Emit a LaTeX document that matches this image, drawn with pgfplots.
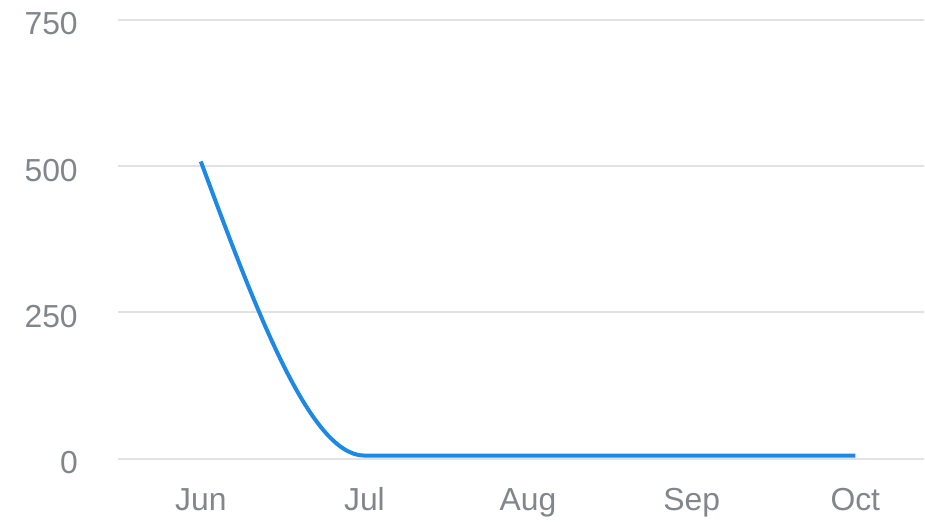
\documentclass[border=0pt]{standalone}
\usepackage{fontspec}
\setmainfont{Liberation Sans}
\usepackage{pgfplots}
\pgfplotsset{compat=1.18}
\definecolor{lblgray}{HTML}{80868B}
\definecolor{gridgray}{HTML}{E2E2E2}
\definecolor{lineblue}{HTML}{1E88E5}
\makeatletter
% monotone cubic (d3 monotoneX style) plot handler: draws only through the data points
\newcount\mc@n
\newcount\mc@k
\def\mc@store#1{%
  \pgf@process{#1}%
  \expandafter\xdef\csname mc@x@\the\mc@n\endcsname{\pgf@sys@tonumber\pgf@x}%
  \expandafter\xdef\csname mc@y@\the\mc@n\endcsname{\pgf@sys@tonumber\pgf@y}%
  \global\advance\mc@n by 1\relax
}
\def\mc@get#1#2{\csname mc@#1@\number#2\endcsname}
\def\mc@secants{%
  \ifnum\mc@k<\mc@last\relax
    \edef\mc@a{\the\mc@k}\edef\mc@b{\the\numexpr\mc@k+1\relax}%
    \pgfmathsetmacro\mc@hh{(\mc@get{x}{\mc@b})-(\mc@get{x}{\mc@a})}%
    \expandafter\xdef\csname mc@h@\mc@a\endcsname{\mc@hh}%
    \pgfmathsetmacro\mc@d{((\mc@get{y}{\mc@b})-(\mc@get{y}{\mc@a}))/(\mc@hh)}%
    \expandafter\xdef\csname mc@d@\mc@a\endcsname{\mc@d}%
    \advance\mc@k by 1\relax
    \expandafter\mc@secants
  \fi}
% interior tangents (k = 1 .. last-1)
\def\mc@tangents{%
  \ifnum\mc@k<\mc@last\relax
    \edef\mc@a{\the\mc@k}%
    \edef\mc@p{\mc@get{d}{\the\numexpr\mc@k-1\relax}}%
    \edef\mc@q{\mc@get{d}{\mc@a}}%
    \edef\mc@hp{\mc@get{h}{\the\numexpr\mc@k-1\relax}}%
    \edef\mc@hq{\mc@get{h}{\mc@a}}%
    \pgfmathparse{(\mc@p)*(\mc@q)<=0 ? 0 : ((\mc@p)>0 ? 2 : -2)*min(abs(\mc@p),abs(\mc@q),0.5*abs(((\mc@p)*(\mc@hq)+(\mc@q)*(\mc@hp))/((\mc@hp)+(\mc@hq))))}%
    \expandafter\xdef\csname mc@m@\mc@a\endcsname{\pgfmathresult}%
    \advance\mc@k by 1\relax
    \expandafter\mc@tangents
  \fi}
\def\mc@path{%
  \ifnum\mc@k<\mc@last\relax
    \edef\mc@a{\the\mc@k}\edef\mc@b{\the\numexpr\mc@k+1\relax}%
    \pgfmathsetmacro\mc@h{(\mc@get{h}{\mc@a})/3}%
    \pgfmathsetmacro\mc@cax{(\mc@get{x}{\mc@a})+\mc@h}%
    \pgfmathsetmacro\mc@cay{(\mc@get{y}{\mc@a})+(\mc@get{m}{\mc@a})*\mc@h}%
    \pgfmathsetmacro\mc@cbx{(\mc@get{x}{\mc@b})-\mc@h}%
    \pgfmathsetmacro\mc@cby{(\mc@get{y}{\mc@b})-(\mc@get{m}{\mc@b})*\mc@h}%
    \pgfpathcurveto{\pgfpoint{\mc@cax pt}{\mc@cay pt}}{\pgfpoint{\mc@cbx pt}{\mc@cby pt}}{\pgfpoint{\mc@get{x}{\mc@b}pt}{\mc@get{y}{\mc@b}pt}}%
    \advance\mc@k by 1\relax
    \expandafter\mc@path
  \fi}
\def\mc@emit{%
  \ifnum\mc@n>2\relax
    \edef\mc@last{\the\numexpr\mc@n-1\relax}%
    \mc@k=0 \mc@secants
    \mc@k=1 \mc@tangents
    % end points: (3*d - m_neighbour)/2
    \pgfmathparse{(3*(\mc@get{d}{0})-(\mc@get{m}{1}))/2}%
    \expandafter\xdef\csname mc@m@0\endcsname{\pgfmathresult}%
    \pgfmathparse{(3*(\mc@get{d}{\the\numexpr\mc@last-1\relax})-(\mc@get{m}{\the\numexpr\mc@last-1\relax}))/2}%
    \expandafter\xdef\csname mc@m@\mc@last\endcsname{\pgfmathresult}%
    \pgfpathmoveto{\pgfpoint{\mc@get{x}{0}pt}{\mc@get{y}{0}pt}}%
    \mc@k=0 \mc@path
  \else\ifnum\mc@n=2\relax
    \pgfpathmoveto{\pgfpoint{\mc@get{x}{0}pt}{\mc@get{y}{0}pt}}%
    \pgfpathlineto{\pgfpoint{\mc@get{x}{1}pt}{\mc@get{y}{1}pt}}%
  \fi\fi}
\pgfdeclareplothandler{\pgfplothandlermonotone}{}{%
  start={\global\mc@n=0\relax},
  point macro=\mc@store,
  jump={},
  end={\mc@emit}%
}
\tikzset{monotone cubic/.code={\let\tikz@plot@handler=\pgfplothandlermonotone}}
\makeatother
\begin{document}
\begin{tikzpicture}
\begin{axis}[
  at={(0,0)}, anchor=south west,
  scale only axis, width=807bp, height=439bp,
  xmin=-0.507, xmax=4.42, ymin=0, ymax=750,
  axis line style={draw=none},
  xtick={0,1,2,3,4}, xticklabels={Jun,Jul,Aug,Sep,Oct},
  ytick={0,250,500,750},
  major tick length=0pt,
  ymajorgrids, grid style={gridgray, line width=2bp},
  tick label style={font=\fontsize{32}{38}\selectfont, text=lblgray, inner sep=0pt},
  yticklabel style={anchor=east, xshift=-40bp, yshift=-4bp},
  xticklabel style={anchor=base, yshift=-52bp},
  /pgf/number format/assume math mode=true,
  clip=false,
]
\addplot[lineblue, line width=4bp, monotone cubic] coordinates {(0,508) (1,5) (2,5) (3,5) (4,5)};
\end{axis}
\path[use as bounding box] (-118bp,-63bp) rectangle (807bp,459bp);
\end{tikzpicture}
\end{document}
